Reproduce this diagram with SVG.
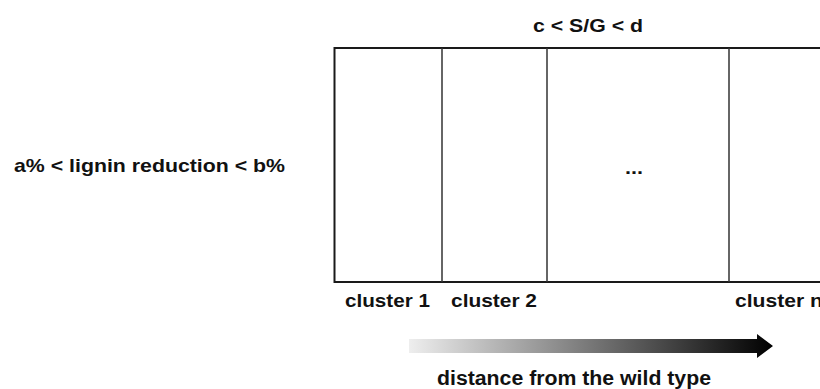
<svg xmlns="http://www.w3.org/2000/svg" width="820" height="389" viewBox="0 0 820 389">
<style>
text{font-family:"Liberation Sans",Arial,sans-serif;font-weight:bold;font-size:19px;fill:#111}
.ln{stroke:#1a1a1a;stroke-width:2;fill:none}
.dv{stroke:#333;stroke-width:1.5;fill:none}
</style>
<defs>
<linearGradient id="g" x1="0" x2="1" y1="0" y2="0">
<stop offset="0" stop-color="#eeeeee"/>
<stop offset="1" stop-color="#000000"/>
</linearGradient>
</defs>
<rect width="820" height="389" fill="#fff"/>
<g id="grid">
<path class="ln" d="M821 48 H334.5 V282 H821"/>
<line class="dv" x1="442" y1="48" x2="442" y2="282"/>
<line class="dv" x1="547" y1="48" x2="547" y2="282"/>
<line class="dv" x1="729" y1="48" x2="729" y2="282"/>
</g>
<g id="labels">
<text x="533" y="32" textLength="110" lengthAdjust="spacingAndGlyphs">c &lt; S/G &lt; d</text>
<text x="14" y="172" textLength="271" lengthAdjust="spacingAndGlyphs">a% &lt; lignin reduction &lt; b%</text>
<text x="625" y="174" textLength="18" lengthAdjust="spacingAndGlyphs">...</text>
<text x="345" y="307" textLength="85" lengthAdjust="spacingAndGlyphs">cluster 1</text>
<text x="451" y="307" textLength="86" lengthAdjust="spacingAndGlyphs">cluster 2</text>
<text x="735" y="307" textLength="88" lengthAdjust="spacingAndGlyphs">cluster n</text>
<text x="437" y="385" style="font-size:20px" textLength="274" lengthAdjust="spacingAndGlyphs">distance from the wild type</text>
</g>
<g id="arrow">
<path d="M409 339 H757 V334 L773 346 L757 358 V353 H409 Z" fill="url(#g)"/>
</g>
</svg>
